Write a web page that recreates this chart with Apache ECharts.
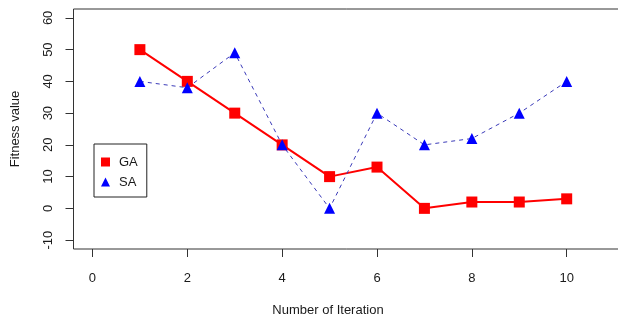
<!DOCTYPE html>
<html>
<head>
<meta charset="utf-8">
<script src="https://cdn.jsdelivr.net/npm/echarts@6/dist/echarts.min.js"></script>
<style>
  html, body { margin: 0; padding: 0; background: #fff; }
  #chart { width: 618px; height: 321px; }
</style>
</head>
<body>
<div id="chart"></div>
<script>
// 迭代次数与适应度
let iterations = [1, 2, 3, 4, 5, 6, 7, 8, 9, 10];
let gaValues = [50, 40, 30, 20, 10, 13, 0, 2, 2, 3];
let saValues = [40, 38, 49, 20, 0, 30, 20, 22, 30, 40];
let xTicks = [0, 2, 4, 6, 8, 10];
let yTicks = [-10, 0, 10, 20, 30, 40, 50, 60];

let font = '"Liberation Sans", Arial, sans-serif';
let chart = echarts.init(document.getElementById('chart'), null, { renderer: 'canvas' });

chart.setOption({
  animation: false,
  textStyle: { fontFamily: font, color: '#1a1a1a' },
  title: {
    text: 'Number of Iteration',
    left: 328,
    top: 304,
    padding: 0,
    textAlign: 'center',
    textStyle: { fontFamily: font, fontSize: 13, fontWeight: 'normal', color: '#1a1a1a' }
  },
  grid: {
    left: 73.5,
    right: -5.6,
    top: 9,
    bottom: 72,
    outerBoundsMode: 'none',
    containLabel: false,
    show: true,
    borderColor: '#333',
    borderWidth: 1
  },
  legend: {
    orient: 'vertical',
    left: 94,
    top: 144,
    padding: [10, 9, 7, 7],
    itemGap: 4,
    itemWidth: 9,
    itemHeight: 9,
    borderColor: '#222',
    borderWidth: 1,
    textStyle: { fontFamily: font, fontSize: 13, color: '#1a1a1a', lineHeight: 16, padding: [0, 0, 0, 4] },
    data: [
      { name: 'GA', icon: 'rect' },
      { name: 'SA', icon: 'triangle' }
    ]
  },
  xAxis: {
    type: 'value',
    min: -0.4,
    max: 11.2,
    axisLine: { show: false, onZero: false },
    splitLine: { show: false },
    axisTick: { show: true, length: 8, customValues: xTicks, lineStyle: { color: '#333' } },
    axisLabel: { customValues: xTicks, margin: 23, fontSize: 13, color: '#1a1a1a', fontFamily: font }
  },
  yAxis: {
    type: 'value',
    min: -12.8,
    max: 62.8,
    name: 'Fitness value',
    nameLocation: 'middle',
    nameGap: 52,
    nameTextStyle: { fontSize: 13, color: '#1a1a1a', fontFamily: font },
    axisLine: { show: false, onZero: false },
    splitLine: { show: false },
    axisTick: { show: true, length: 8, customValues: yTicks, lineStyle: { color: '#333' } },
    axisLabel: { customValues: yTicks, rotate: 90, margin: 19, fontSize: 13, color: '#1a1a1a', fontFamily: font }
  },
  series: [
    {
      name: 'GA',
      type: 'line',
      data: iterations.map((x, i) => [x, gaValues[i]]),
      symbol: 'rect',
      symbolSize: 11,
      lineStyle: { color: '#ff0000', width: 2 },
      itemStyle: { color: '#ff0000' },
      z: 2
    },
    {
      name: 'SA',
      type: 'line',
      data: iterations.map((x, i) => [x, saValues[i]]),
      symbol: 'triangle',
      symbolSize: 11,
      lineStyle: { color: '#3a3ab8', width: 1, type: [4, 4] },
      itemStyle: { color: '#0000ff' },
      z: 3
    }
  ]
});
</script>
</body>
</html>
